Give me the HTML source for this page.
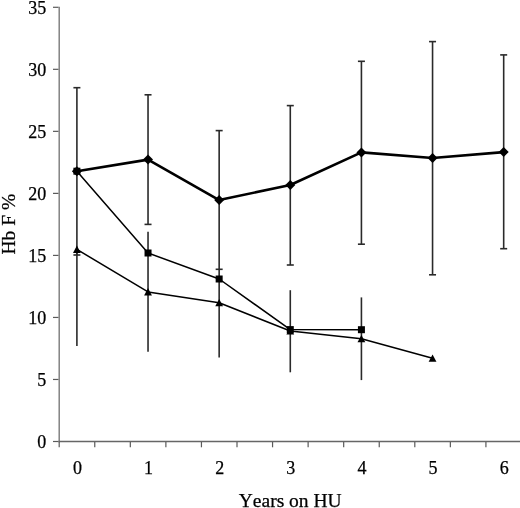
<!DOCTYPE html><html><head><meta charset="utf-8"><style>html,body{margin:0;padding:0;background:#fff;}svg{display:block;will-change:transform;}text{font-family:"Liberation Serif",serif;fill:#000;}</style></head><body>
<svg width="520" height="508" viewBox="0 0 520 508">
<rect width="520" height="508" fill="#fff"/>
<line x1="59.2" y1="6.8" x2="59.2" y2="442.2" stroke="#7a7a7a" stroke-width="1.4"/>
<line x1="58.5" y1="441.5" x2="522" y2="441.5" stroke="#666" stroke-width="1.3"/>
<g stroke="#5a5a5a" stroke-width="1.2" fill="none">
<line x1="53" y1="441.50" x2="58.5" y2="441.50"/>
<line x1="53" y1="379.47" x2="58.5" y2="379.47"/>
<line x1="53" y1="317.44" x2="58.5" y2="317.44"/>
<line x1="53" y1="255.41" x2="58.5" y2="255.41"/>
<line x1="53" y1="193.38" x2="58.5" y2="193.38"/>
<line x1="53" y1="131.35" x2="58.5" y2="131.35"/>
<line x1="53" y1="69.32" x2="58.5" y2="69.32"/>
<line x1="53" y1="7.29" x2="58.5" y2="7.29"/>
<line x1="94.76" y1="442" x2="94.76" y2="447.3"/>
<line x1="130.32" y1="442" x2="130.32" y2="447.3"/>
<line x1="165.88" y1="442" x2="165.88" y2="447.3"/>
<line x1="201.44" y1="442" x2="201.44" y2="447.3"/>
<line x1="237.00" y1="442" x2="237.00" y2="447.3"/>
<line x1="272.56" y1="442" x2="272.56" y2="447.3"/>
<line x1="308.12" y1="442" x2="308.12" y2="447.3"/>
<line x1="343.68" y1="442" x2="343.68" y2="447.3"/>
<line x1="379.24" y1="442" x2="379.24" y2="447.3"/>
<line x1="414.80" y1="442" x2="414.80" y2="447.3"/>
<line x1="450.36" y1="442" x2="450.36" y2="447.3"/>
<line x1="485.92" y1="442" x2="485.92" y2="447.3"/>
<line x1="521.48" y1="442" x2="521.48" y2="447.3"/>
<line x1="59.2" y1="442" x2="59.2" y2="447.3"/>
</g>
<text x="46.3" y="448.10" font-size="18" stroke="#000" stroke-width="0.25" text-anchor="end">0</text>
<text x="46.3" y="386.07" font-size="18" stroke="#000" stroke-width="0.25" text-anchor="end">5</text>
<text x="46.3" y="324.04" font-size="18" stroke="#000" stroke-width="0.25" text-anchor="end">10</text>
<text x="46.3" y="262.01" font-size="18" stroke="#000" stroke-width="0.25" text-anchor="end">15</text>
<text x="46.3" y="199.98" font-size="18" stroke="#000" stroke-width="0.25" text-anchor="end">20</text>
<text x="46.3" y="137.95" font-size="18" stroke="#000" stroke-width="0.25" text-anchor="end">25</text>
<text x="46.3" y="75.92" font-size="18" stroke="#000" stroke-width="0.25" text-anchor="end">30</text>
<text x="46.3" y="13.89" font-size="18" stroke="#000" stroke-width="0.25" text-anchor="end">35</text>
<text x="77.40" y="474.2" font-size="18" stroke="#000" stroke-width="0.25" text-anchor="middle">0</text>
<text x="148.53" y="474.2" font-size="18" stroke="#000" stroke-width="0.25" text-anchor="middle">1</text>
<text x="219.66" y="474.2" font-size="18" stroke="#000" stroke-width="0.25" text-anchor="middle">2</text>
<text x="290.79" y="474.2" font-size="18" stroke="#000" stroke-width="0.25" text-anchor="middle">3</text>
<text x="361.92" y="474.2" font-size="18" stroke="#000" stroke-width="0.25" text-anchor="middle">4</text>
<text x="433.05" y="474.2" font-size="18" stroke="#000" stroke-width="0.25" text-anchor="middle">5</text>
<text x="504.18" y="474.2" font-size="18" stroke="#000" stroke-width="0.25" text-anchor="middle">6</text>
<text x="290.2" y="506.8" font-size="19.5" stroke="#000" stroke-width="0.25" text-anchor="middle" style="font-kerning:none">Years on HU</text>
<text transform="translate(14.5,224.2) rotate(-90)" font-size="19.5" stroke="#000" stroke-width="0.25" text-anchor="middle" style="font-kerning:none">Hb F %</text>
<g stroke="#2a2a2a" stroke-width="1.6" fill="none">
<line x1="76.90" y1="87.7" x2="76.90" y2="255.0"/>
<line x1="73.40" y1="87.7" x2="80.40" y2="87.7"/>
<line x1="73.40" y1="255.0" x2="80.40" y2="255.0"/>
<line x1="76.90" y1="249.4" x2="76.90" y2="345.9"/>
<line x1="148.03" y1="94.8" x2="148.03" y2="224.4"/>
<line x1="144.53" y1="94.8" x2="151.53" y2="94.8"/>
<line x1="144.53" y1="224.4" x2="151.53" y2="224.4"/>
<line x1="148.03" y1="231.7" x2="148.03" y2="351.7"/>
<line x1="219.16" y1="130.6" x2="219.16" y2="269.3"/>
<line x1="215.66" y1="130.6" x2="222.66" y2="130.6"/>
<line x1="215.66" y1="269.3" x2="222.66" y2="269.3"/>
<line x1="219.16" y1="269.3" x2="219.16" y2="357.4"/>
<line x1="290.29" y1="105.6" x2="290.29" y2="265.0"/>
<line x1="286.79" y1="105.6" x2="293.79" y2="105.6"/>
<line x1="286.79" y1="265.0" x2="293.79" y2="265.0"/>
<line x1="290.29" y1="290.2" x2="290.29" y2="372.3"/>
<line x1="361.42" y1="61.3" x2="361.42" y2="244.2"/>
<line x1="357.92" y1="61.3" x2="364.92" y2="61.3"/>
<line x1="357.92" y1="244.2" x2="364.92" y2="244.2"/>
<line x1="361.42" y1="297.4" x2="361.42" y2="380.1"/>
<line x1="432.55" y1="41.6" x2="432.55" y2="274.8"/>
<line x1="429.05" y1="41.6" x2="436.05" y2="41.6"/>
<line x1="429.05" y1="274.8" x2="436.05" y2="274.8"/>
<line x1="503.68" y1="54.9" x2="503.68" y2="248.7"/>
<line x1="500.18" y1="54.9" x2="507.18" y2="54.9"/>
<line x1="500.18" y1="248.7" x2="507.18" y2="248.7"/>
</g>
<polyline points="76.90,249.4 148.03,291.9 219.16,302.8 290.29,331.0 361.42,338.7 432.55,358.3" fill="none" stroke="#000" stroke-width="1.5" stroke-linejoin="round"/>
<polyline points="76.90,171.2 148.03,253.0 219.16,279.0 290.29,329.6 361.42,329.7" fill="none" stroke="#000" stroke-width="1.5" stroke-linejoin="round"/>
<polyline points="76.90,171.2 148.03,159.6 219.16,200.1 290.29,185.0 361.42,152.4 432.55,158.0 503.68,152.1" fill="none" stroke="#000" stroke-width="2.6" stroke-linejoin="round"/>
<polygon points="76.90,245.60 80.80,252.90 73.00,252.90" fill="#000"/>
<polygon points="148.03,288.10 151.93,295.40 144.13,295.40" fill="#000"/>
<polygon points="219.16,299.00 223.06,306.30 215.26,306.30" fill="#000"/>
<polygon points="290.29,327.20 294.19,334.50 286.39,334.50" fill="#000"/>
<polygon points="361.42,334.90 365.32,342.20 357.52,342.20" fill="#000"/>
<polygon points="432.55,354.50 436.45,361.80 428.65,361.80" fill="#000"/>
<rect x="73.40" y="167.70" width="7" height="7" fill="#000"/>
<rect x="144.53" y="249.50" width="7" height="7" fill="#000"/>
<rect x="215.66" y="275.50" width="7" height="7" fill="#000"/>
<rect x="286.79" y="326.10" width="7" height="7" fill="#000"/>
<rect x="357.92" y="326.20" width="7" height="7" fill="#000"/>
<polygon points="76.90,166.20 81.90,171.20 76.90,176.20 71.90,171.20" fill="#000"/>
<polygon points="148.03,154.60 153.03,159.60 148.03,164.60 143.03,159.60" fill="#000"/>
<polygon points="219.16,195.10 224.16,200.10 219.16,205.10 214.16,200.10" fill="#000"/>
<polygon points="290.29,180.00 295.29,185.00 290.29,190.00 285.29,185.00" fill="#000"/>
<polygon points="361.42,147.40 366.42,152.40 361.42,157.40 356.42,152.40" fill="#000"/>
<polygon points="432.55,153.00 437.55,158.00 432.55,163.00 427.55,158.00" fill="#000"/>
<polygon points="503.68,147.10 508.68,152.10 503.68,157.10 498.68,152.10" fill="#000"/>
</svg></body></html>
